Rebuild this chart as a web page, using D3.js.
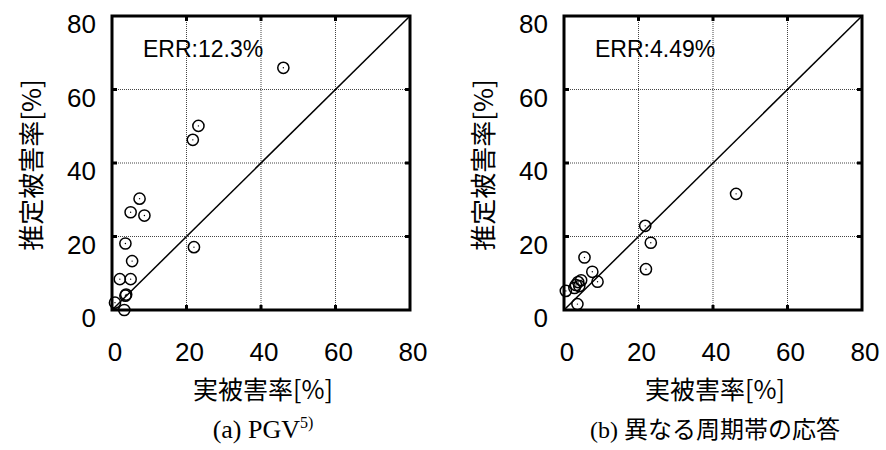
<!DOCTYPE html>
<html>
<head>
<meta charset="utf-8">
<script src="https://cdn.jsdelivr.net/npm/d3@7"></script>
<style>
  html, body { margin: 0; padding: 0; background: #fff; }
  svg { display: block; }
</style>
</head>
<body>
<svg id="chart" width="886" height="450"></svg>
<script>
// Axis ticks (both axes, both panels)
const tickValues = [0, 20, 40, 60, 80];

// Panel (a): PGV based estimate
const pgvActual    = [46.0, 23.2, 21.7, 7.4, 5.0, 8.7, 3.6, 22.0, 5.4, 2.1, 5.0, 3.8, 3.6, 0.8, 3.3];
const pgvEstimated = [65.9, 50.1, 46.3, 30.3, 26.6, 25.7, 18.1, 17.1, 13.3, 8.4, 8.4, 4.2, 3.9, 2.0, 0.0];

// Panel (b): responses in different period bands
const bandActual    = [46.2, 21.8, 23.3, 22.0, 5.5, 7.6, 9.0, 3.8, 4.6, 3.2, 2.8, 4.1, 0.5, 3.6];
const bandEstimated = [31.6, 22.9, 18.3, 11.1, 14.3, 10.4, 7.7, 7.6, 8.1, 6.8, 6.0, 6.5, 5.2, 1.6];

const errLabels = ["ERR:12.3%", "ERR:4.49%"];
const captions  = ["(a) PGV", "(b) 異なる周期帯の応答"];
const xTitle = "実被害率[%]";
const yTitle = "推定被害率[%]";

const svg = d3.select("#chart");

const panels = [
  { left: 112, xs: pgvActual,  ys: pgvEstimated,  err: errLabels[0], cap: captions[0], capSize: 26, sup: "5)" },
  { left: 564, xs: bandActual, ys: bandEstimated, err: errLabels[1], cap: captions[1], capSize: 24, sup: null }
];

const plotSize = 298, plotTop = 16, plotBottom = 310;
const numFont = "'Liberation Sans', Arial, sans-serif";
const cjkFont = "'Noto Sans CJK JP', sans-serif";
const serifFont = "'Liberation Serif', 'Noto Sans CJK JP', serif";

panels.forEach(p => {
  const x = d3.scaleLinear().domain([0, 80]).range([p.left, p.left + plotSize]);
  const y = d3.scaleLinear().domain([0, 80]).range([plotBottom, plotTop]);
  const g = svg.append("g");

  // dotted grid
  const inner = tickValues.slice(1, -1);
  g.selectAll(".gx").data(inner).enter().append("line")
    .attr("x1", d => x(d)).attr("x2", d => x(d))
    .attr("y1", plotTop).attr("y2", plotBottom)
    .attr("stroke", "#444").attr("stroke-width", 1).attr("stroke-dasharray", "1,1");
  g.selectAll(".gy").data(inner).enter().append("line")
    .attr("x1", x(0)).attr("x2", x(80))
    .attr("y1", d => y(d)).attr("y2", d => y(d))
    .attr("stroke", "#444").attr("stroke-width", 1).attr("stroke-dasharray", "1,1");

  // 1:1 reference line
  g.append("line")
    .attr("x1", x(0)).attr("y1", y(0)).attr("x2", x(80)).attr("y2", y(80))
    .attr("stroke", "#000").attr("stroke-width", 1.5);

  // inward tick stubs on all four sides
  const tl = 5;
  inner.forEach(v => {
    [[x(v), plotTop, x(v), plotTop + tl], [x(v), plotBottom, x(v), plotBottom - tl],
     [x(0), y(v), x(0) + tl, y(v)], [x(80), y(v), x(80) - tl, y(v)]].forEach(c => {
      g.append("line").attr("x1", c[0]).attr("y1", c[1]).attr("x2", c[2]).attr("y2", c[3])
        .attr("stroke", "#000").attr("stroke-width", 3);
    });
  });

  // frame
  g.append("rect")
    .attr("x", x(0)).attr("y", y(80))
    .attr("width", x(80) - x(0)).attr("height", y(0) - y(80))
    .attr("fill", "none").attr("stroke", "#000").attr("stroke-width", 3);

  // tick labels
  g.selectAll(".tx").data(tickValues).enter().append("text")
    .attr("x", d => x(d) + 3).attr("y", 361)
    .attr("text-anchor", "middle")
    .attr("font-family", numFont).attr("font-size", 26)
    .text(d => d);
  g.selectAll(".ty").data(tickValues).enter().append("text")
    .attr("x", x(0) - 16).attr("y", d => y(d) + 17)
    .attr("text-anchor", "end")
    .attr("font-family", numFont).attr("font-size", 26)
    .text(d => d);

  // points
  const pts = p.xs.map((v, i) => [v, p.ys[i]]);
  g.selectAll(".pt").data(pts).enter().append("circle")
    .attr("cx", d => x(d[0])).attr("cy", d => y(d[1])).attr("r", 5.6)
    .attr("fill", "none").attr("stroke", "#000").attr("stroke-width", 1.5);
  g.selectAll(".pd").data(pts).enter().append("circle")
    .attr("cx", d => x(d[0])).attr("cy", d => y(d[1])).attr("r", 0.7)
    .attr("fill", "#000");

  // error annotation
  g.append("text")
    .attr("x", x(0) + 31).attr("y", 57)
    .attr("font-family", numFont).attr("font-size", 23)
    .text(p.err);

  // axis titles
  g.append("text")
    .attr("x", x(40) + 2).attr("y", 399)
    .attr("text-anchor", "middle")
    .attr("font-family", cjkFont).attr("font-size", 25)
    .text(xTitle);
  g.append("text")
    .attr("transform", `translate(${x(0) - 71},${(plotTop + plotBottom) / 2 + 2}) rotate(-90)`)
    .attr("text-anchor", "middle")
    .attr("font-family", cjkFont).attr("font-size", 26)
    .text(yTitle);

  // caption
  const cap = g.append("text")
    .attr("x", x(40) + 2).attr("y", 438)
    .attr("text-anchor", "middle")
    .attr("font-family", serifFont).attr("font-size", p.capSize)
    .text(p.cap);
  if (p.sup) {
    cap.append("tspan").attr("font-size", 16).attr("dy", -10).text(p.sup);
  }
});
</script>
</body>
</html>
